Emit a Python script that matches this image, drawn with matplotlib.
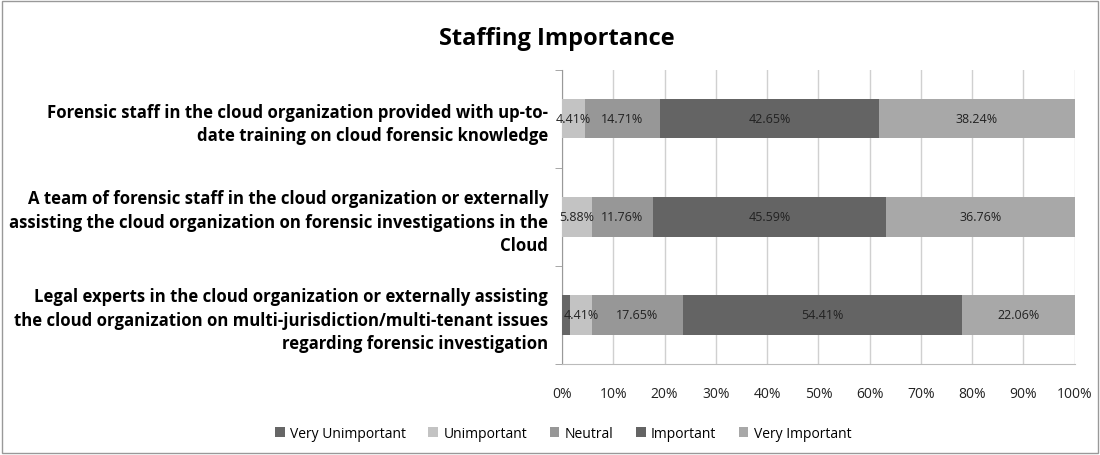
import matplotlib.pyplot as plt
import matplotlib.patches as mpatches
import numpy as np

# Dati
categorie = [
    "Forensic staff in the cloud organization provided with up-to-\ndate training on cloud forensic knowledge",
    "A team of forensic staff in the cloud organization or externally\nassisting the cloud organization on forensic investigations in the\nCloud",
    "Legal experts in the cloud organization or externally assisting\nthe cloud organization on multi-jurisdiction/multi-tenant issues\nregarding forensic investigation",
]
serie = ["Very Unimportant", "Unimportant", "Neutral", "Important", "Very Important"]
very_unimportant = [0.0, 0.0, 1.47]
unimportant = [4.41, 5.88, 4.41]
neutral = [14.71, 11.76, 17.65]
important = [42.65, 45.59, 54.41]
very_important = [38.24, 36.76, 22.06]
colori = ["#666666", "#c3c3c3", "#979797", "#646464", "#a8a8a8"]

valori = [very_unimportant, unimportant, neutral, important, very_important]

fig = plt.figure(figsize=(11, 4.56), dpi=100)
ax = fig.add_axes([0.511, 0.1996, 0.466, 0.645])

y = np.array([2, 1, 0])
sinistra = np.zeros(3)
for nome, vals, col in zip(serie, valori, colori):
    vals = np.array(vals)
    ax.barh(y, vals, left=sinistra, height=0.4, color=col, label=nome, zorder=3)
    for yi, l, v in zip(y, sinistra, vals):
        if v >= 2:
            ax.text(l + v / 2, yi, f"{v:.2f}%", ha="center", va="center",
                    fontsize=9, color="#222222", family="Open Sans", zorder=4)
    sinistra = sinistra + vals

ax.set_xlim(0, 100)
ax.set_ylim(-0.5, 2.5)
ax.set_xticks(np.arange(0, 101, 10))
ax.set_xticklabels([f"{v}%" for v in range(0, 101, 10)], fontsize=10, color="#222222", family="Open Sans")
ax.set_yticks(y)
ax.set_yticklabels(categorie, fontsize=12.1, fontweight="bold", family="Open Sans", linespacing=1.4)
ax.tick_params(axis="y", length=0, pad=10)
ax.tick_params(axis="x", length=0, pad=16)
ax.set_yticks([-0.5, 0.5, 1.5, 2.5], minor=True)
ax.tick_params(axis="y", which="minor", length=5, color="#999999", direction="out")
ax.grid(axis="x", color="#d0d0d0", linewidth=1, zorder=0)
for s in ["top", "right"]:
    ax.spines[s].set_visible(False)
ax.spines["left"].set_color("#999999")
ax.spines["bottom"].set_color("#bbbbbb")

fig.text(0.506, 0.915, "Staffing Importance", ha="center", va="center",
         fontsize=17, fontweight="bold", family="Open Sans")

fig.legend(loc="center", bbox_to_anchor=(0.512, 0.048), ncol=5, frameon=False,
           handlelength=0.7, handleheight=0.7, columnspacing=1.6,
           handletextpad=0.4, prop={"family": "Open Sans", "size": 10})

# cornice esterna
fig.patches.append(mpatches.Rectangle((0.002, 0.004), 0.996, 0.992, transform=fig.transFigure,
                                      fill=False, edgecolor="#999999", linewidth=1))

plt.savefig("out.png", dpi=100)
